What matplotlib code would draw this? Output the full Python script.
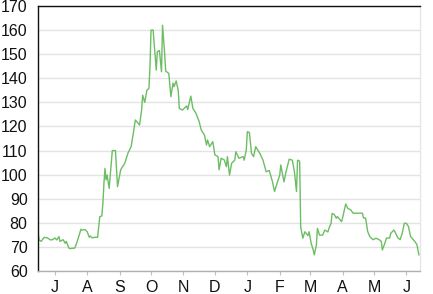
import datetime as dt

import matplotlib
matplotlib.use("Agg")
import matplotlib.pyplot as plt
import matplotlib.dates as mdates

# trading days after the start date, and the price on that day
start = dt.date(2007, 6, 15)
days = [0, 1, 3, 6, 9, 12, 14, 16, 18, 20, 21, 24, 26, 27, 29, 30, 33, 35, 36, 38,
        41, 42, 45, 47, 49, 50, 52, 54, 57, 58, 59, 61, 62, 63, 64, 65, 66, 67, 68,
        71, 74, 76, 79, 83, 86, 89, 91, 93, 97, 99, 100, 102, 104, 106, 107, 108,
        110, 111, 113, 114, 116, 118, 119, 121, 122, 125, 127, 129, 130, 132, 134,
        135, 138, 142, 143, 146, 148, 151, 154, 156, 159, 161, 162, 164, 167, 169,
        172, 173, 175, 178, 180, 181, 183, 185, 188, 189, 192, 196, 197, 199, 200,
        202, 204, 206, 208, 212, 215, 218, 221, 224, 226, 228, 231, 232, 234, 235,
        237, 239, 240, 243, 245, 247, 248, 250, 251, 253, 255, 258, 259, 261, 263,
        264, 266, 267, 269, 272, 274, 277, 278, 280, 281, 283, 285, 286, 290, 291,
        293, 294, 296, 299, 301, 307, 310, 311, 313, 315, 317, 320, 323, 326, 328,
        329, 331, 333, 336, 337, 340, 341, 344, 346, 348, 350, 352, 354, 356, 360,
        362, 364]
prices = [76.3, 72.9, 72.3, 74.0, 73.7, 72.9, 73.0, 73.7, 72.9, 74.3, 72.3, 73.0,
          71.5, 72.3, 70.1, 69.3, 69.4, 69.5, 70.4, 73.0, 77.3, 77.0, 77.2, 76.3,
          74.0, 74.5, 73.7, 74.0, 74.0, 78.4, 82.5, 82.9, 88.1, 96.4, 102.6, 97.8,
          99.9, 97.0, 94.3, 110.0, 110.0, 95.0, 102.0, 104.8, 109.0, 111.6, 117.0,
          122.7, 120.6, 126.8, 133.0, 130.0, 135.0, 135.8, 144.8, 160.0, 160.0,
          154.5, 143.4, 151.0, 151.5, 142.7, 162.0, 150.4, 143.0, 142.0, 132.4,
          138.0, 136.5, 138.9, 135.0, 127.5, 126.8, 128.5, 127.0, 132.6, 127.5,
          125.4, 122.0, 118.5, 116.5, 112.3, 114.4, 111.6, 113.7, 108.2, 107.5,
          102.0, 106.8, 106.1, 103.3, 107.5, 99.8, 104.7, 106.0, 109.5, 106.8,
          107.5, 106.0, 110.2, 117.8, 117.5, 108.8, 107.5, 111.6, 108.8, 106.0,
          101.2, 101.7, 97.1, 93.0, 95.7, 99.9, 104.0, 99.2, 97.0, 101.2, 104.7,
          106.4, 106.0, 101.2, 93.0, 106.0, 105.6, 78.4, 73.6, 76.3, 74.7, 76.3,
          71.5, 68.7, 66.7, 70.8, 77.7, 74.9, 74.9, 77.0, 76.2, 77.7, 79.8, 83.9,
          83.5, 81.9, 82.6, 80.5, 82.0, 86.0, 87.8, 86.0, 85.3, 84.0, 84.0, 84.0,
          82.0, 82.0, 76.4, 74.3, 73.0, 73.6, 73.0, 72.3, 68.7, 71.0, 73.7, 73.7,
          75.6, 77.0, 76.3, 73.7, 73.0, 75.6, 79.8, 79.8, 78.4, 74.3, 72.3, 71.0,
          66.7]

dates = [start + dt.timedelta(days=d) for d in days]

plt.rcParams['font.family'] = ['Liberation Sans', 'DejaVu Sans']

fig = plt.figure(figsize=(4.33, 2.94), dpi=100)
ax = fig.add_axes([38 / 433, 1 - 271 / 294, (420 - 38) / 433, (271 - 6) / 294])

ax.plot(dates, prices, color='#6cbd63', lw=1.0)

ax.set_xlim(start, start + dt.timedelta(days=365))
ax.set_ylim(60, 170)
ax.set_yticks(range(60, 171, 10))

ax.xaxis.set_major_locator(mdates.MonthLocator())
ax.xaxis.set_major_formatter(mdates.DateFormatter('%b'))
fig.canvas.draw()
ax.set_xticklabels([t.get_text()[0] for t in ax.get_xticklabels()])

ax.grid(axis='y', color='#e3e3e3', lw=1)
ax.set_axisbelow(True)

ax.spines['left'].set_color('#111111')
ax.spines['top'].set_color('#111111')
ax.spines['right'].set_color('#e6e6e6')
ax.spines['bottom'].set_color('#b0b0b0')
for s in ax.spines.values():
    s.set_linewidth(1)

ax.tick_params(axis='y', length=0, pad=7.5, labelsize=11.5, labelcolor='#111111')
ax.tick_params(axis='x', length=3, color='#c0c0c0', pad=3.5, labelsize=11.5,
               labelcolor='#111111')

fig.savefig('out.png', dpi=100)
